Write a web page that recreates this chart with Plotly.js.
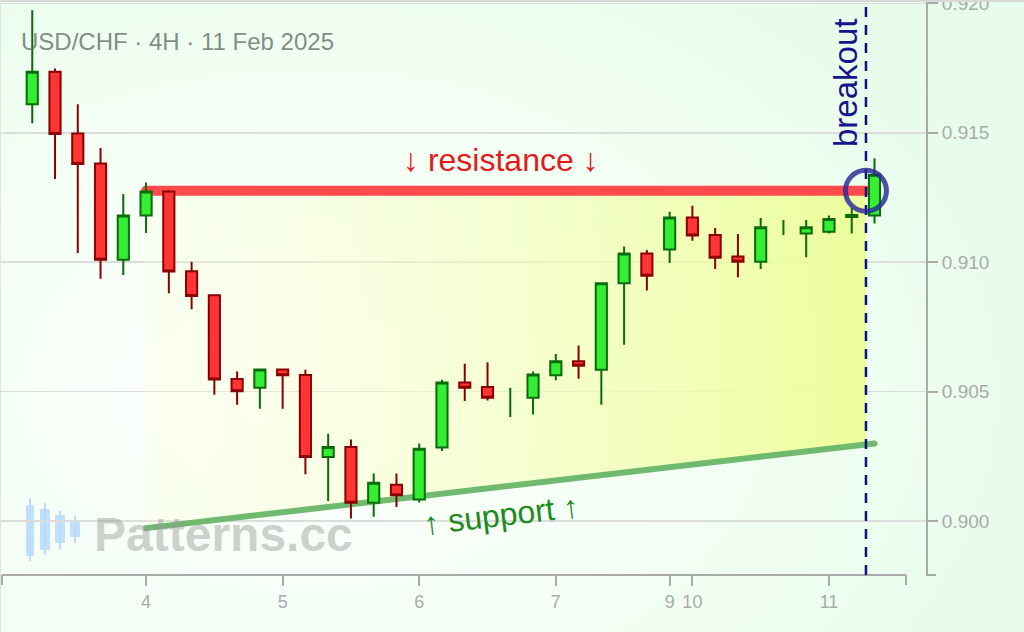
<!DOCTYPE html>
<html><head><meta charset="utf-8">
<script src="https://cdn.plot.ly/plotly-3.0.1.min.js"></script>
<style>
html,body{margin:0;padding:0;width:1024px;height:632px;overflow:hidden;}
#wrap{position:relative;width:1024px;height:632px;overflow:hidden;
 background: radial-gradient(ellipse 75% 85% at 30% 62%, #fdfffd 0%, #f5fff6 45%, #e7fcea 100%);}
#plot{position:absolute;left:0;top:-40px;width:1024px;height:672px;}
#bt{position:absolute;left:0;top:0;width:1024px;height:2px;background:#d6d9d6;}
#bl{position:absolute;left:0;top:0;width:1px;height:632px;background:#e0e3e0;}
</style></head><body>
<div id="wrap"><div id="plot"></div><div id="bt"></div><div id="bl"></div></div>
<script>
// ---- data (USD/CHF 4H candles) ----
const times = [
 '2025-02-03 04:00','2025-02-03 08:00','2025-02-03 12:00','2025-02-03 16:00','2025-02-03 20:00',
 '2025-02-04 00:00','2025-02-04 04:00','2025-02-04 08:00','2025-02-04 12:00','2025-02-04 16:00','2025-02-04 20:00',
 '2025-02-05 00:00','2025-02-05 04:00','2025-02-05 08:00','2025-02-05 12:00','2025-02-05 16:00','2025-02-05 20:00',
 '2025-02-06 00:00','2025-02-06 04:00','2025-02-06 08:00','2025-02-06 12:00','2025-02-06 16:00','2025-02-06 20:00',
 '2025-02-07 00:00','2025-02-07 04:00','2025-02-07 08:00','2025-02-07 12:00','2025-02-07 16:00',
 '2025-02-09 20:00',
 '2025-02-10 00:00','2025-02-10 04:00','2025-02-10 08:00','2025-02-10 12:00','2025-02-10 16:00','2025-02-10 20:00',
 '2025-02-11 00:00','2025-02-11 04:00','2025-02-11 08:00'];
const opens  = [0.91610,0.91736,0.91497,0.91381,0.91010, 0.91180,0.91273,0.90965,0.90872,0.90549,0.90515,
 0.90586,0.90564,0.90248,0.90286,0.90071,0.90141, 0.90084,0.90284,0.90535,0.90518,0.90460,0.90477,
 0.90563,0.90618,0.90585,0.90919,0.91034, 0.91049, 0.91173,0.91105,0.91022,0.91002,0.91130,0.91111,
 0.91118,0.91175,0.91180];
const highs  = [0.91973,0.91748,0.91610,0.91441,0.91263, 0.91308,0.91279,0.91002,0.90873,0.90578,0.90587,
 0.90587,0.90585,0.90338,0.90315,0.90184,0.90184, 0.90300,0.90546,0.90608,0.90614,0.90515,0.90578,
 0.90646,0.90678,0.90922,0.91061,0.91047, 0.91195, 0.91218,0.91132,0.91109,0.91171,0.91163,0.91163,
 0.91180,0.91209,0.91402];
const lows   = [0.91537,0.91321,0.91036,0.90936,0.90951, 0.91113,0.90880,0.90818,0.90488,0.90450,0.90434,
 0.90434,0.90181,0.90078,0.90010,0.90017,0.90055, 0.90072,0.90271,0.90464,0.90466,0.90402,0.90412,
 0.90544,0.90550,0.90450,0.90681,0.90891, 0.90997, 0.91083,0.90974,0.90942,0.90974,0.91105,0.91019,
 0.91111,0.91111,0.91150];
const closes = [0.91736,0.91495,0.91379,0.91010,0.91180, 0.91273,0.90964,0.90870,0.90547,0.90502,0.90586,
 0.90563,0.90248,0.90286,0.90071,0.90148,0.90100, 0.90280,0.90535,0.90515,0.90477,0.90460,0.90566,
 0.90618,0.90600,0.90919,0.91034,0.90948, 0.91173, 0.91103,0.91017,0.91002,0.91135,0.91130,0.91135,
 0.91167,0.91182,0.91338];

const xRange = ['2025-02-02 22:20','2025-02-11 17:03'];
const yRange = [0.89792, 0.92005];
const weekendBreakStart = ['2025-02-07 20:00'];
const weekendBreakHours = 48;
const tickDates  = ['2025-02-04','2025-02-05','2025-02-06','2025-02-07','2025-02-09 20:00','2025-02-10','2025-02-11'];
const tickLabels = ['4','5','6','7','9','10','11'];

const resistanceX = ['2025-02-04 00:00','2025-02-11 06:30'];
const resistanceY = [0.91276, 0.91276];
const supportX = ['2025-02-04 00:00','2025-02-11 08:00'];
const supportY = [0.89973, 0.90300];
const breakoutTime = '2025-02-11 06:30';
const supportAtBreakout = 0.90296;

// ---- helpers for paper coordinates (plot area is 926 x 573 px, bottom at viewport y=575) ----
const PW = 926, PH = 573, PB = 575;
const px = v => v / PW;
const py = v => (PB - v) / PH;

const breaks = [{values: weekendBreakStart, dvalue: weekendBreakHours * 3600000}];
const FONT = 'Liberation Sans, Arial, sans-serif';

// split flat (doji) bars, which show only a wick, from bodied candles
const isDoji = times.map((t, i) => opens[i] === closes[i]);
const pick = (arr, want) => arr.filter((v, i) => isDoji[i] === want);

const traces = [
  { // shaded triangle between support & resistance
    type:'scatter', mode:'none', xaxis:'x', yaxis:'y',
    x:[resistanceX[0], resistanceX[1], breakoutTime, supportX[0]],
    y:[resistanceY[0], resistanceY[1], supportAtBreakout, supportY[0]],
    fill:'toself',
    fillgradient:{type:'horizontal', colorscale:[[0,'rgba(250,255,215,0.25)'],[1,'rgba(236,255,150,0.95)']]},
    hoverinfo:'skip'
  },
  { // resistance
    type:'scatter', mode:'lines+markers', xaxis:'x', yaxis:'y',
    x:resistanceX, y:resistanceY,
    line:{color:'rgb(255,75,75)', width:10}, marker:{size:10, color:'rgb(255,75,75)'},
    hoverinfo:'skip'
  },
  { // support
    type:'scatter', mode:'lines+markers', xaxis:'x', yaxis:'y',
    x:supportX, y:supportY,
    line:{color:'rgb(112,186,112)', width:6}, marker:{size:6, color:'rgb(112,186,112)'},
    hoverinfo:'skip'
  },
  {
    type:'candlestick', xaxis:'x2', yaxis:'y2',
    x:pick(times,false), open:pick(opens,false), high:pick(highs,false), low:pick(lows,false), close:pick(closes,false),
    increasing:{line:{color:'#0b6b0b', width:2}, fillcolor:'#33ee33'},
    decreasing:{line:{color:'#8b0000', width:2}, fillcolor:'#ff3535'},
    whiskerwidth:0, hoverinfo:'skip'
  },
  {
    type:'ohlc', xaxis:'x2', yaxis:'y2', tickwidth:0,
    x:pick(times,true), open:pick(opens,true), high:pick(highs,true), low:pick(lows,true), close:pick(closes,true),
    increasing:{line:{color:'#0b6b0b', width:2}},
    decreasing:{line:{color:'#0b6b0b', width:2}},
    hoverinfo:'skip'
  }
];

// watermark logo candles (decoration, pixel geometry)
const logo = [
  {x:30, w:[498,561], b:[26,34,505,556]},
  {x:45, w:[503,555], b:[40,50,509,550]},
  {x:60, w:[511,549], b:[55,65,515,543]},
  {x:75, w:[516,543], b:[70,80,522,537]}
];
const shapes = [];
logo.forEach(c => {
  shapes.push({type:'line', xref:'paper', yref:'paper', x0:px(c.x), x1:px(c.x), y0:py(c.w[0]), y1:py(c.w[1]),
    line:{color:'rgba(175,210,250,0.8)', width:2}, layer:'below'});
  shapes.push({type:'rect', xref:'paper', yref:'paper', x0:px(c.b[0]), x1:px(c.b[1]), y0:py(c.b[2]), y1:py(c.b[3]),
    fillcolor:'rgba(185,218,252,0.85)', line:{width:0}, layer:'below'});
});
// x axis line with end ticks, y-axis bottom tick
const AX = '#aaaaaa';
shapes.push({type:'line', xref:'paper', yref:'paper', x0:px(2), x1:px(906), y0:0, y1:0, line:{color:AX, width:2}});
[2, 906].forEach(v => shapes.push({type:'line', xref:'paper', yref:'paper', x0:px(v), x1:px(v),
  ysizemode:'pixel', yanchor:0, y0:0, y1:-10, line:{color:AX, width:2}}));
shapes.push({type:'line', xref:'paper', yref:'paper', xsizemode:'pixel', xanchor:1, x0:0, x1:10, y0:0, y1:0, line:{color:AX, width:2}});
// breakout dashed line & circle
shapes.push({type:'line', xref:'x', yref:'paper', x0:breakoutTime, x1:breakoutTime, y0:0, y1:1,
  line:{color:'#12127f', width:2.5, dash:'10px,8px'}, layer:'above'});
shapes.push({type:'circle', xref:'x', yref:'y', xsizemode:'pixel', ysizemode:'pixel',
  xanchor:breakoutTime, yanchor:resistanceY[1], x0:-20.5, x1:20.5, y0:-20.5, y1:20.5,
  line:{color:'rgba(40,40,150,0.82)', width:5}, layer:'above'});

const annotations = [
  {xref:'paper', yref:'paper', x:px(19), y:py(41), xanchor:'left', yanchor:'middle', showarrow:false,
   text:'USD/CHF · 4H · 11 Feb 2025', font:{size:24, color:'rgba(100,110,105,0.8)'}},
  {xref:'paper', yref:'paper', x:px(501), y:py(160), xanchor:'center', yanchor:'middle', showarrow:false,
   text:'↓ resistance ↓', font:{size:32, color:'#e31b1b'}},
  {xref:'paper', yref:'paper', x:px(501), y:py(515), xanchor:'center', yanchor:'middle', showarrow:false,
   text:'↑ support ↑', textangle:-6.7, font:{size:32, color:'#1d8a1d'}},
  {xref:'paper', yref:'paper', x:px(846), y:py(83), xanchor:'center', yanchor:'middle', showarrow:false,
   text:'breakout', textangle:-90, font:{size:33, color:'#15158c'}},
  {xref:'paper', yref:'paper', x:px(92), y:py(534), xanchor:'left', yanchor:'middle', showarrow:false,
   text:'<b>Patterns.cc</b>', font:{size:48, color:'rgba(150,150,150,0.45)'}}
];

const hiddenAxis = {showticklabels:false, ticks:'', showgrid:false, showline:false, zeroline:false, fixedrange:true};

const layout = {
  width:1024, height:672,
  margin:{l:0, r:98, t:42, b:57},
  paper_bgcolor:'rgba(0,0,0,0)', plot_bgcolor:'rgba(0,0,0,0)',
  font:{family:FONT},
  showlegend:false, hovermode:false, dragmode:false,
  xaxis:{type:'date', range:xRange, autorange:false, rangebreaks:breaks,
    tickmode:'array', tickvals:tickDates, ticktext:tickLabels,
    ticks:'outside', ticklen:10, tickwidth:2, tickcolor:AX,
    showgrid:false, showline:false, zeroline:false,
    tickfont:{size:18, color:AX}, rangeslider:{visible:false}, fixedrange:true},
  yaxis:{range:yRange, autorange:false, side:'right', tick0:0.9, dtick:0.005, tickformat:'.3f',
    ticks:'outside', ticklen:10, tickwidth:2, tickcolor:AX,
    showline:true, linecolor:AX, linewidth:2,
    showgrid:true, gridcolor:'#dcdcdc', gridwidth:1.5, zeroline:false,
    tickfont:{size:19, color:AX}, fixedrange:true},
  xaxis2:Object.assign({type:'date', overlaying:'x', anchor:'y2', range:xRange, autorange:false, rangebreaks:breaks,
    visible:true, rangeslider:{visible:false}}, hiddenAxis),
  yaxis2:Object.assign({overlaying:'y', anchor:'x2', side:'right', range:yRange, autorange:false, visible:true}, hiddenAxis),
  shapes:shapes, annotations:annotations
};

Plotly.newPlot('plot', traces, layout, {displayModeBar:false, staticPlot:true});
</script></body></html>
